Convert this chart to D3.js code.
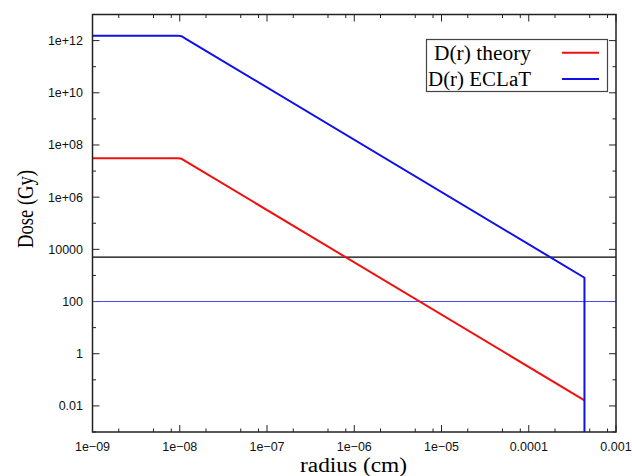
<!DOCTYPE html>
<html>
<head>
<meta charset="utf-8">
<script src="https://cdn.jsdelivr.net/npm/d3@7"></script>
<style>
  body { margin: 0; background: #fff; }
  .tick-label { font-family: "Liberation Sans", Arial, sans-serif; font-size: 12.5px; fill: #111; }
  .serif { font-family: "Liberation Serif", "Times New Roman", serif; fill: #000; }
</style>
</head>
<body>
<div id="chart"></div>
<script>
// radius (cm) and dose (Gy)
var radius = [1e-9, 9.5e-9, 1.05e-8, 1.2e-8, 4.35e-4];
var doseTheory = [3.1e7, 3.1e7, 2.95e7, 2.25e7, 0.0164];
var radiusEclat = [1e-9, 9.5e-9, 1.05e-8, 1.2e-8, 4.35e-4, 4.35e-4];
var doseEclat = [1.55e12, 1.55e12, 1.47e12, 1.12e12, 819, 1e-5];

// reference levels
var levelBlack = 5000;
var levelBlue = 100;

var xTicks = [1e-9, 1e-8, 1e-7, 1e-6, 1e-5, 1e-4, 1e-3];
var xTickLabels = ["1e\u221209", "1e\u221208", "1e\u221207", "1e\u221206", "1e\u221205", "0.0001", "0.001"];
var yTicks = [1e12, 1e10, 1e8, 1e6, 1e4, 100, 1, 0.01];
var yTickLabels = ["1e+12", "1e+10", "1e+08", "1e+06", "10000", "100", "1", "0.01"];
var xMinorSteps = [2, 5, 8];

var width = 632, height = 476;
var plotLeft = 92.5, plotRight = 616, plotTop = 14.5, plotBottom = 432;

var svg = d3.select("#chart").append("svg")
  .attr("width", width)
  .attr("height", height);

var x = d3.scaleLog().domain([1e-9, 1e-3]).range([plotLeft, plotRight]);
var y = d3.scaleLog().domain([1e-3, 1e13]).range([plotBottom, plotTop]);

svg.append("clipPath").attr("id", "plot")
  .append("rect")
  .attr("x", plotLeft).attr("y", plotTop)
  .attr("width", plotRight - plotLeft).attr("height", plotBottom - plotTop);

// tick positions
var xMinor = [];
d3.range(-9, -3).forEach(function(e) {
  xMinorSteps.forEach(function(s) { xMinor.push(s * Math.pow(10, e)); });
});
var yAll = d3.range(-3, 14).map(function(e) { return Math.pow(10, e); });

var ticks = svg.append("g").attr("stroke", "#222").attr("stroke-width", 1);

xTicks.forEach(function(d) {
  ticks.append("line").attr("x1", x(d)).attr("x2", x(d)).attr("y1", plotBottom).attr("y2", plotBottom - 7);
  ticks.append("line").attr("x1", x(d)).attr("x2", x(d)).attr("y1", plotTop).attr("y2", plotTop + 7);
});
xMinor.forEach(function(d) {
  ticks.append("line").attr("x1", x(d)).attr("x2", x(d)).attr("y1", plotBottom).attr("y2", plotBottom - 3.5);
  ticks.append("line").attr("x1", x(d)).attr("x2", x(d)).attr("y1", plotTop).attr("y2", plotTop + 3.5);
});
yAll.forEach(function(d) {
  var major = yTicks.indexOf(d) >= 0;
  var len = major ? 7 : 3.5;
  ticks.append("line").attr("x1", plotLeft).attr("x2", plotLeft + len).attr("y1", y(d)).attr("y2", y(d));
  ticks.append("line").attr("x1", plotRight).attr("x2", plotRight - len).attr("y1", y(d)).attr("y2", y(d));
});

// tick labels
svg.selectAll(".xl")
  .data(xTicks)
  .enter().append("text")
    .attr("class", "tick-label")
    .attr("x", function(d) { return x(d); })
    .attr("y", 451)
    .attr("text-anchor", "middle")
    .text(function(d, i) { return xTickLabels[i]; });

svg.selectAll(".yl")
  .data(yTicks)
  .enter().append("text")
    .attr("class", "tick-label")
    .attr("x", 83)
    .attr("y", function(d) { return y(d) + 4.5; })
    .attr("text-anchor", "end")
    .text(function(d, i) { return yTickLabels[i]; });

// curves
var plot = svg.append("g").attr("clip-path", "url(#plot)");

var line = d3.line()
  .x(function(d) { return x(d[0]); })
  .y(function(d) { return y(d[1]); });

plot.append("line")
  .attr("x1", plotLeft).attr("x2", plotRight)
  .attr("y1", y(levelBlack)).attr("y2", y(levelBlack))
  .attr("stroke", "#000").attr("stroke-width", 1.2);

plot.append("line")
  .attr("x1", plotLeft).attr("x2", plotRight)
  .attr("y1", y(levelBlue)).attr("y2", y(levelBlue))
  .attr("stroke", "#4848ec").attr("stroke-width", 1);

plot.append("path")
  .datum(d3.zip(radius, doseTheory))
  .attr("fill", "none")
  .attr("stroke", "#f01010")
  .attr("stroke-width", 2)
  .attr("d", line);

plot.append("path")
  .datum(d3.zip(radiusEclat, doseEclat))
  .attr("fill", "none")
  .attr("stroke", "#1010e8")
  .attr("stroke-width", 2)
  .attr("d", line);

// frame
svg.append("rect")
  .attr("x", plotLeft).attr("y", plotTop)
  .attr("width", plotRight - plotLeft).attr("height", plotBottom - plotTop)
  .attr("fill", "none")
  .attr("stroke", "#222")
  .attr("stroke-width", 1.5);

// legend
var legend = svg.append("g");
legend.append("rect")
  .attr("x", 426.5).attr("y", 39.5)
  .attr("width", 181).attr("height", 52)
  .attr("fill", "#fff")
  .attr("stroke", "#444")
  .attr("stroke-width", 1.2);

var legendItems = [
  { name: "D(r) theory", color: "#f01010", w: 97 },
  { name: "D(r) ECLaT", color: "#1010e8", w: 103 }
];
legendItems.forEach(function(d, i) {
  var ly = 52.7 + i * 26.3;
  legend.append("text")
    .attr("class", "serif")
    .attr("x", 531)
    .attr("y", ly + 7)
    .attr("text-anchor", "end")
    .attr("font-size", 20)
    .attr("textLength", d.w)
    .attr("lengthAdjust", "spacingAndGlyphs")
    .text(d.name);
  legend.append("line")
    .attr("x1", 562).attr("x2", 599)
    .attr("y1", ly).attr("y2", ly)
    .attr("stroke", d.color)
    .attr("stroke-width", 2);
});

// axis titles
svg.append("text")
  .attr("class", "serif")
  .attr("x", 353.5)
  .attr("y", 471.5)
  .attr("text-anchor", "middle")
  .attr("font-size", 20)
  .attr("textLength", 107)
  .attr("lengthAdjust", "spacingAndGlyphs")
  .text("radius (cm)");

svg.append("text")
  .attr("class", "serif")
  .attr("transform", "translate(33,209) rotate(-90)")
  .attr("text-anchor", "middle")
  .attr("font-size", 23)
  .attr("textLength", 78)
  .attr("lengthAdjust", "spacingAndGlyphs")
  .text("Dose (Gy)");
</script>
</body>
</html>
